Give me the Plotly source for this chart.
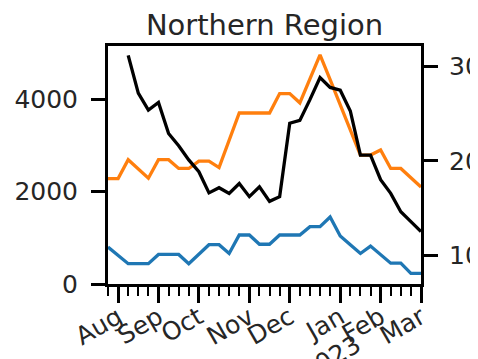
import pandas as pd
import plotly.graph_objects as go

# ---- data ----
start_week = "2022-07-30"   # weekly periods (week ending Saturday)
n_weeks = 32
weeks = pd.date_range(start_week, periods=n_weeks, freq="7D")

blue_values = [800, 620, 440, 440, 440, 640, 640, 640, 440, 640, 850, 850, 660, 1060, 1060, 860,
               860, 1060, 1060, 1060, 1240, 1240, 1450, 1040, 850, 660, 820, 640, 450, 450, 230, 230]
orange_values = [2280, 2280, 2690, 2490, 2290, 2690, 2690, 2500, 2500, 2660, 2660, 2520, 3110, 3700, 3700, 3700,
                 3700, 4120, 4120, 3920, 4440, 4960, 4420, 3870, 3330, 2790, 2790, 2900, 2500, 2500, 2300, 2100]
black_values = [None, None, 31.2, 27.2, 25.4, 26.2, 22.9, 21.6, 20.1, 18.85, 16.6, 17.15, 16.55, 17.6, 16.2, 17.25,
                15.7, 16.2, 24.0, 24.3, 26.5, 28.85, 27.8, 27.5, 25.3, 20.6, 20.6, 18.0, 16.55, 14.6, 13.55, 12.5]

tick_dates = ["2022-08-06", "2022-09-03", "2022-10-01", "2022-11-05", "2022-12-03",
              "2023-01-07", "2023-02-04", "2023-03-04"]
tick_labels = ["Aug", "Sep", "Oct", "Nov", "Dec", "Jan<br>2023", "Feb", "Mar"]

left_ticks = [0, 2000, 4000]
right_ticks = [10, 20, 30]

title_text = "Northern Region"

# ---- figure ----
text_color = "#262626"
font_family = "DejaVu Sans"
page_offset = 8  # default body margin of the written page
fig_width = 478
fig_height = 359 - page_offset

fig = go.Figure()
fig.add_trace(go.Scatter(x=weeks, y=blue_values, mode="lines",
                         line=dict(color="#1f77b4", width=3.3), yaxis="y"))
fig.add_trace(go.Scatter(x=weeks, y=orange_values, mode="lines",
                         line=dict(color="#ff7f0e", width=3.3), yaxis="y"))
fig.add_trace(go.Scatter(x=weeks, y=black_values, mode="lines",
                         line=dict(color="black", width=3.3), yaxis="y2"))

fig.update_layout(
    width=fig_width, height=fig_height,
    margin=dict(l=108 - page_offset, r=fig_width - (421 - page_offset), t=46 - page_offset,
                b=fig_height - (284 - page_offset)),
    paper_bgcolor="white", plot_bgcolor="white",
    showlegend=False,
    font=dict(family=font_family, color=text_color),
    title=dict(text=title_text, x=0.5, xref="paper", xanchor="center",
               y=1 - (25 - page_offset) / fig_height, yref="container", yanchor="middle",
               font=dict(size=29, family=font_family, color=text_color),
               automargin=False),
    xaxis=dict(
        type="date", automargin=False,
        range=[weeks[0], weeks[-1]],
        showgrid=False, zeroline=False,
        showline=True, linecolor="black", linewidth=3, mirror=True,
        ticks="outside", ticklen=16, tickwidth=2.5, tickcolor="black",
        tickmode="array", tickvals=tick_dates, ticktext=tick_labels,
        tickangle=-30, tickfont=dict(size=25), ticklabelstandoff=-10,
        minor=dict(ticks="outside", tickmode="array", tickvals=list(weeks),
                   ticklen=9, tickwidth=2, tickcolor="black", showgrid=False),
    ),
    yaxis=dict(
        range=[0, 5150], automargin=False,
        showgrid=False, zeroline=False,
        showline=True, linecolor="black", linewidth=3,
        ticks="outside", ticklen=14, tickwidth=2.5, tickcolor="black",
        tickmode="array", tickvals=left_ticks,
        tickfont=dict(size=25), ticklabelstandoff=8,
    ),
    yaxis2=dict(
        range=[6.92, 32.2], automargin=False,
        overlaying="y", side="right",
        showgrid=False, zeroline=False,
        showline=True, linecolor="black", linewidth=3,
        ticks="outside", ticklen=14, tickwidth=2.5, tickcolor="black",
        tickmode="array", tickvals=right_ticks,
        tickfont=dict(size=25), ticklabelstandoff=6,
    ),
)

fig.write_html("out.html")
